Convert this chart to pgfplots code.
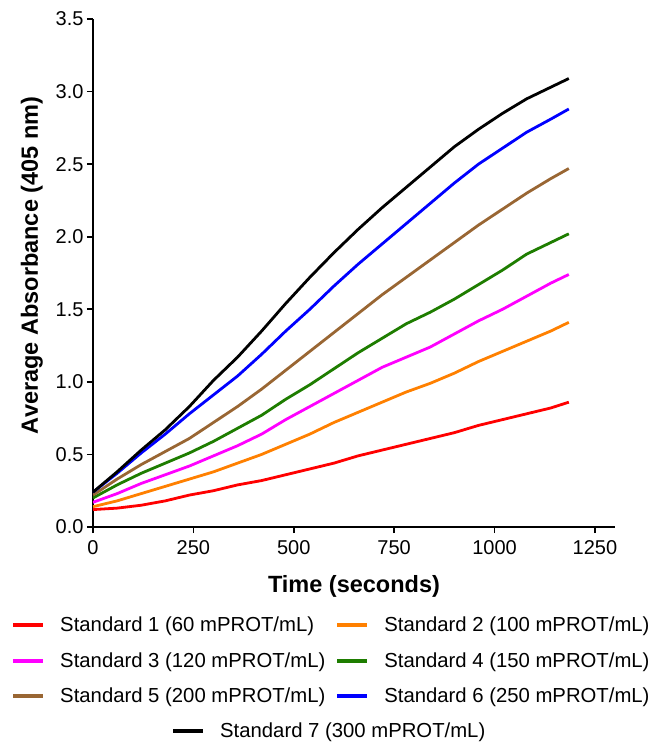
\documentclass[border=0pt]{standalone}
\usepackage{fontspec}
\setmainfont{Liberation Sans}
\usepackage{pgfplots}
\usepackage{pgfplotstable}
\pgfplotsset{compat=1.18}
\definecolor{cRed}{RGB}{255,0,0}
\definecolor{cOrange}{RGB}{255,128,0}
\definecolor{cMag}{RGB}{255,0,255}
\definecolor{cGreen}{RGB}{30,125,0}
\definecolor{cBrown}{RGB}{153,102,51}
\definecolor{cBlue}{RGB}{0,0,255}
\pgfplotstableread{
t    s1   s2   s3   s4   s5   s6   s7
0    0.12 0.14 0.17 0.20 0.22 0.24 0.24
60   0.13 0.18 0.23 0.29 0.33 0.37 0.38
120  0.15 0.23 0.30 0.37 0.43 0.51 0.53
180  0.18 0.28 0.36 0.44 0.52 0.64 0.67
240  0.22 0.33 0.42 0.51 0.61 0.78 0.83
300  0.25 0.38 0.49 0.59 0.72 0.91 1.01
360  0.29 0.44 0.56 0.68 0.83 1.04 1.17
420  0.32 0.50 0.64 0.77 0.95 1.19 1.35
480  0.36 0.57 0.74 0.88 1.08 1.35 1.54
540  0.40 0.64 0.83 0.98 1.21 1.50 1.72
600  0.44 0.72 0.92 1.09 1.34 1.66 1.89
660  0.49 0.79 1.01 1.20 1.47 1.81 2.05
720  0.53 0.86 1.10 1.30 1.60 1.95 2.20
780  0.57 0.93 1.17 1.40 1.72 2.09 2.34
840  0.61 0.99 1.24 1.48 1.84 2.23 2.48
900  0.65 1.06 1.33 1.57 1.96 2.37 2.62
960  0.70 1.14 1.42 1.67 2.08 2.50 2.74
1020 0.74 1.21 1.50 1.77 2.19 2.61 2.85
1080 0.78 1.28 1.59 1.88 2.30 2.72 2.95
1140 0.82 1.35 1.68 1.96 2.40 2.81 3.03
1185 0.86 1.41 1.74 2.02 2.47 2.88 3.09
}\datatable
\begin{document}
\begin{tikzpicture}
\begin{axis}[
  scale only axis, width=522bp, height=508bp,
  xmin=0, xmax=1300, ymin=0, ymax=3.5,
  axis x line*=bottom, axis y line*=left,
  axis line style={line width=1.8bp},
  xtick={0,250,500,750,1000,1250},
  ytick={0,0.5,1,1.5,2,2.5,3,3.5},
  tick align=outside, major tick length=6bp,
  tick style={line width=1.6bp, black},
  /pgf/number format/1000 sep={},
  yticklabel style={/pgf/number format/.cd, fixed, fixed zerofill, precision=1},
  xticklabel style={yshift=-4bp},
  /pgf/number format/assume math mode=true,
  tick label style={font=\fontsize{20bp}{24bp}\selectfont},
  xlabel={Time (seconds)},
  ylabel={Average Absorbance (405 nm)},
  label style={font=\fontsize{23.5bp}{28bp}\selectfont\bfseries},
  xlabel style={at={(axis description cs:0.5,-0.116)}, anchor=center},
  ylabel style={at={(axis description cs:-0.117,0.515)}, anchor=center},
  every axis plot/.append style={line width=2.8bp, no marks},
  legend columns=2,
  legend cell align=left,
  legend image code/.code={\draw[#1, line width=4bp] (0bp,0bp) -- (30bp,0bp);},
  legend style={draw=none, fill=none, inner sep=0pt,
    at={(axis description cs:-0.157,-0.1772)}, anchor=north west,
    font=\fontsize{20.3bp}{24bp}\selectfont,
    nodes={inner sep=0pt},
    row sep=19.2bp,
    /tikz/every odd column/.append style={column sep=15bp},
    /tikz/every even column/.append style={column sep=10bp}},
]
\addplot[cRed] table[x=t, y=s1] {\datatable};
\addlegendentry{Standard 1 (60 mPROT/mL)}
\addplot[cOrange] table[x=t, y=s2] {\datatable};
\addlegendentry{Standard 2 (100 mPROT/mL)}
\addplot[cMag] table[x=t, y=s3] {\datatable};
\addlegendentry{Standard 3 (120 mPROT/mL)}
\addplot[cGreen] table[x=t, y=s4] {\datatable};
\addlegendentry{Standard 4 (150 mPROT/mL)}
\addplot[cBrown] table[x=t, y=s5] {\datatable};
\addlegendentry{Standard 5 (200 mPROT/mL)}
\addplot[cBlue] table[x=t, y=s6] {\datatable};
\addlegendentry{Standard 6 (250 mPROT/mL)}
\addplot[black] table[x=t, y=s7] {\datatable};
\end{axis}
\begin{axis}[
  scale only axis, width=522bp, height=508bp,
  xmin=0, xmax=1, ymin=0, ymax=1, hide axis,
  legend cell align=left,
  legend image code/.code={\draw[#1, line width=4bp] (0bp,0bp) -- (30bp,0bp);},
  legend style={draw=none, fill=none, inner sep=0pt,
    at={(axis description cs:0.1494,-0.3858)}, anchor=north west,
    font=\fontsize{20.3bp}{24bp}\selectfont,
    nodes={inner sep=0pt},
    /tikz/every odd column/.append style={column sep=15bp}},
]
\addlegendimage{black, line width=4bp}
\addlegendentry{Standard 7 (300 mPROT/mL)}
\end{axis}
\pgfresetboundingbox
\path (-93bp,-220bp) rectangle (565bp,527bp);
\end{tikzpicture}
\end{document}
